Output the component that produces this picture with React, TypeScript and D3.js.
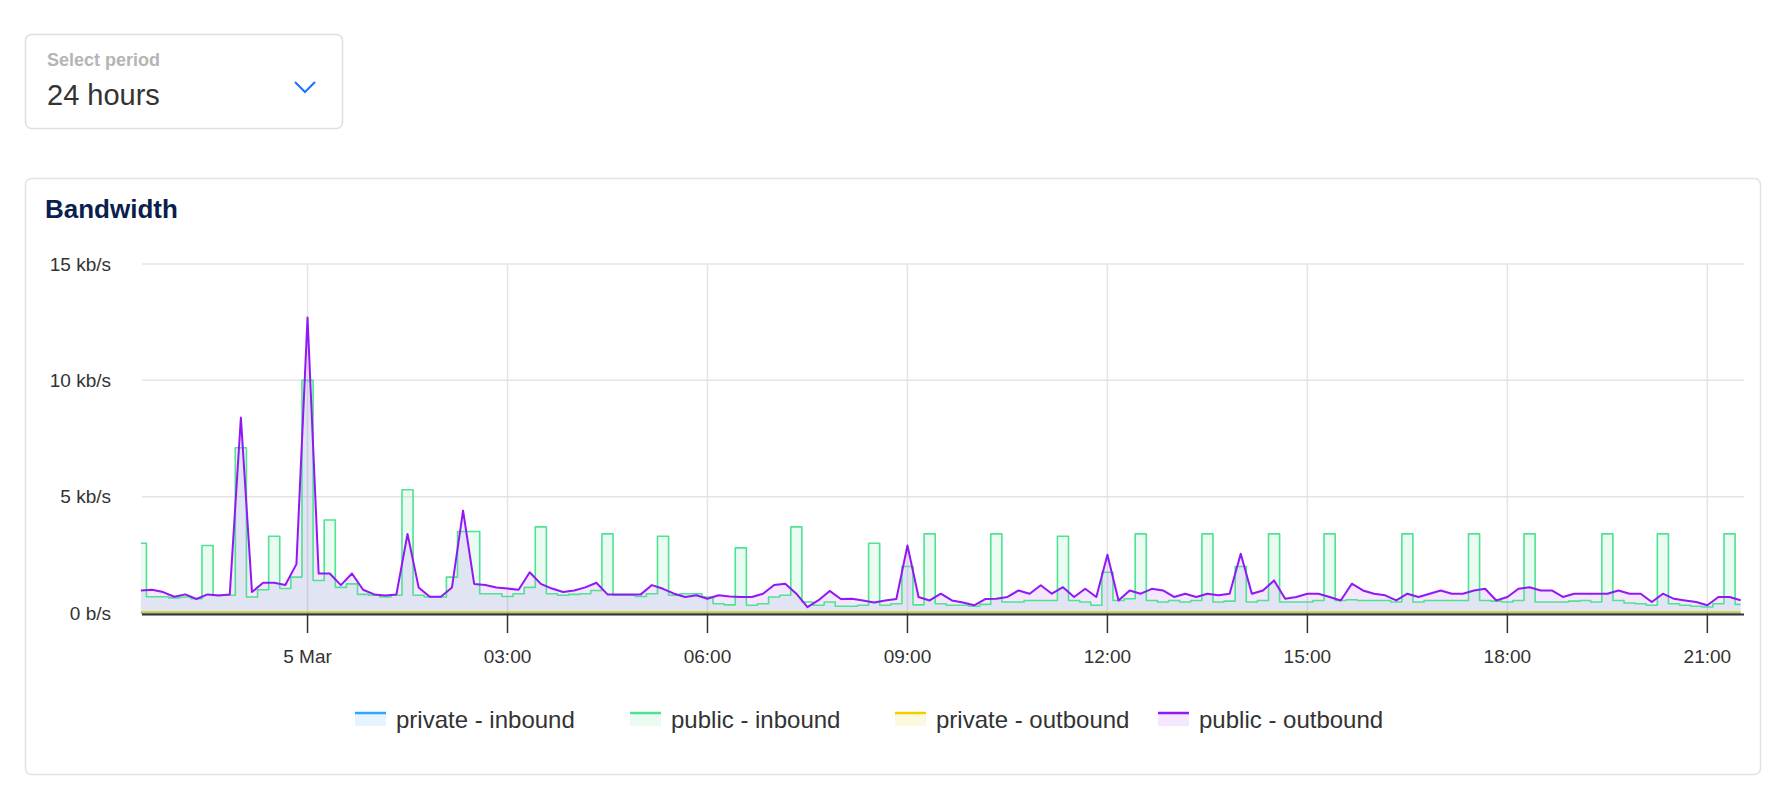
import * as d3 from 'd3'

// 10-minute samples starting 4 Mar 21:30 (UTC), values in kb/s
const publicOutbound = [
  0.97, 1.0, 0.9, 0.7, 0.8, 0.6, 0.8, 0.75, 0.8, 8.4,
  0.9, 1.3, 1.3, 1.2, 2.1, 12.7, 1.7, 1.7, 1.2, 1.7,
  1.0, 0.8, 0.75, 0.8, 3.4, 1.1, 0.7, 0.7, 1.1, 4.4,
  1.25, 1.2, 1.1, 1.05, 1.0, 1.75, 1.25, 1.05, 0.9, 0.97,
  1.1, 1.3, 0.8, 0.8, 0.8, 0.8, 1.2, 1.04, 0.83, 0.69,
  0.76, 0.61, 0.76, 0.71, 0.69, 0.69, 0.83, 1.2, 1.26, 0.83,
  0.25, 0.55, 0.95, 0.6, 0.61, 0.54, 0.45, 0.54, 0.6, 2.9,
  0.69, 0.54, 0.83, 0.54, 0.45, 0.33, 0.6, 0.61, 0.69, 0.97,
  0.83, 1.19, 0.83, 1.11, 0.69, 1.04, 0.69, 2.5, 0.54, 0.97,
  0.83, 1.04, 0.97, 0.69, 0.83, 0.69, 0.83, 0.76, 0.83, 2.55,
  0.83, 0.97, 1.4, 0.61, 0.69, 0.83, 0.83, 0.69, 0.54, 1.26,
  0.97, 0.83, 0.76, 0.54, 0.83, 0.69, 0.83, 0.97, 0.83, 0.83,
  0.97, 1.04, 0.54, 0.69, 1.04, 1.11, 0.97, 0.97, 0.69, 0.83,
  0.83, 0.83, 0.83, 0.97, 0.83, 0.83, 0.47, 0.83, 0.61, 0.54,
  0.47, 0.33, 0.69, 0.69, 0.55,
]
const publicInbound = [
  3.0, 0.7, 0.7, 0.65, 0.69, 0.61, 2.9, 0.76, 0.76, 7.1,
  0.69, 1.0, 3.3, 1.05, 1.54, 10.0, 1.4, 4.0, 1.1, 1.25,
  0.8, 0.76, 0.69, 0.76, 5.3, 0.76, 0.69, 0.69, 1.54, 3.5,
  3.5, 0.83, 0.83, 0.71, 0.83, 1.1, 3.7, 0.83, 0.76, 0.8,
  0.83, 0.97, 3.4, 0.76, 0.76, 0.71, 0.83, 3.3, 0.76, 0.83,
  0.83, 0.69, 0.4, 0.35, 2.8, 0.33, 0.4, 0.69, 0.76, 3.7,
  0.47, 0.33, 0.47, 0.29, 0.29, 0.33, 3.0, 0.33, 0.4, 2.0,
  0.35, 3.4, 0.4, 0.33, 0.33, 0.29, 0.37, 3.4, 0.47, 0.47,
  0.54, 0.54, 0.54, 3.3, 0.54, 0.47, 0.33, 1.75, 0.54, 0.61,
  3.4, 0.54, 0.47, 0.54, 0.47, 0.54, 3.4, 0.47, 0.51, 2.0,
  0.47, 0.54, 3.4, 0.47, 0.47, 0.47, 0.54, 3.4, 0.54, 0.57,
  0.54, 0.54, 0.54, 0.47, 3.4, 0.47, 0.54, 0.54, 0.54, 0.54,
  3.4, 0.54, 0.51, 0.47, 0.54, 3.4, 0.47, 0.47, 0.47, 0.51,
  0.54, 0.47, 3.4, 0.54, 0.43, 0.4, 0.33, 3.4, 0.4, 0.33,
  0.29, 0.26, 0.4, 3.4, 0.37,
]
// private interfaces stay flat near zero all day
const privateInbound = [0, 0]
const privateOutbound = [0.04, 0.04]

const startTime = new Date(Date.UTC(2021, 2, 4, 21, 30))
const endTime = new Date(Date.UTC(2021, 2, 5, 21, 30))
const domainStart = new Date(Date.UTC(2021, 2, 4, 21, 31))
const domainEnd = new Date(Date.UTC(2021, 2, 5, 21, 33))

const tickHours = [0, 3, 6, 9, 12, 15, 18, 21]
const tickLabels = ['5 Mar', '03:00', '06:00', '09:00', '12:00', '15:00', '18:00', '21:00']
const yTicks = [0, 5, 10, 15]
const yTickLabels = ['0 b/s', '5 kb/s', '10 kb/s', '15 kb/s']

const seriesNames = ['private - inbound', 'public - inbound', 'private - outbound', 'public - outbound']
const seriesColors = ['#2aa8ff', '#4fe391', '#f2cd00', '#9118f5']
const seriesFills = ['rgba(42,168,255,0.12)', 'rgba(79,227,145,0.12)', 'rgba(242,205,0,0.12)', 'rgba(145,24,245,0.1)']

const FONT = '"Liberation Sans", Arial, sans-serif'

export default function App() {
  const left = 142, right = 1744, top = 264, bottom = 613
  const x = d3.scaleUtc().domain([domainStart, domainEnd]).range([left, right])
  const y = d3.scaleLinear().domain([0, 15]).range([bottom, top])

  const stepTime = (i: number) => d3.utcMinute.offset(startTime, i * 10)
  const toPoints = (vals: number[]) => vals.map((v, i) => ({ t: stepTime(i), v }))
  const toFlat = (vals: number[]) => vals.map((v, i) => ({ t: i === 0 ? startTime : endTime, v }))

  const series = [
    toFlat(privateInbound),
    toPoints(publicInbound),
    toFlat(privateOutbound),
    toPoints(publicOutbound),
  ]
  // inbound public traffic comes in short flat bursts
  const curves = [d3.curveLinear, d3.curveStep, d3.curveLinear, d3.curveLinear]

  const ticks = tickHours.map(h => new Date(Date.UTC(2021, 2, 5, h)))
  const legendX = [355, 630, 895, 1158]

  return (
    <div style={{ position: 'absolute', left: 0, top: 0 }}>
      <svg width={1786} height={788} style={{ fontFamily: FONT, display: 'block' }}>
        <rect x={0} y={0} width={1786} height={788} fill="#fff" />
        {/* period selector */}
        <rect x={25.5} y={34.5} width={317} height={94} rx={6} fill="#fff" stroke="#dcdfe3" strokeWidth={1.5} />
        <text x={47} y={66} fontSize={18} fontWeight={600} fill="#b5b5b5">Select period</text>
        <text x={47} y={105} fontSize={29} fill="#333">24 hours</text>
        <path d="M295,82 L305,92 L315,82" fill="none" stroke="#1a73ff" strokeWidth={2} />

        {/* panel */}
        <rect x={25.5} y={178.5} width={1735} height={596} rx={6} fill="#fff" stroke="#dde3ec" strokeWidth={1.5} />
        <text x={45} y={218} fontSize={26} fontWeight={700} fill="#0b1f4f">Bandwidth</text>

        {yTicks.map((t, i) => (
          <g key={t}>
            {t > 0 && <line x1={left} x2={right} y1={y(t)} y2={y(t)} stroke="#e4e4e4" strokeWidth={1.5} />}
            <text x={111} y={y(t)} dy="0.35em" textAnchor="end" fontSize={19} fill="#333">{yTickLabels[i]}</text>
          </g>
        ))}
        {ticks.map((t, i) => (
          <g key={i}>
            <line x1={x(t)} x2={x(t)} y1={top} y2={bottom} stroke="#e4e4e4" strokeWidth={1.5} />
            <line x1={x(t)} x2={x(t)} y1={bottom} y2={bottom + 20} stroke="#333" strokeWidth={1.5} />
            <text x={x(t)} y={663} textAnchor="middle" fontSize={19} fill="#333">{tickLabels[i]}</text>
          </g>
        ))}

        {series.map((s, i) => {
          const area = d3.area<{ t: Date, v: number }>().curve(curves[i]).x(d => x(d.t)).y0(y(0)).y1(d => y(d.v))
          return <path key={'a' + i} d={area(s) ?? ''} fill={seriesFills[i]} />
        })}
        {series.map((s, i) => {
          const line = d3.line<{ t: Date, v: number }>().curve(curves[i]).x(d => x(d.t)).y(d => y(d.v))
          return <path key={'l' + i} d={line(s) ?? ''} fill="none" stroke={seriesColors[i]} strokeWidth={i === 3 ? 2 : 1.6} strokeLinejoin="round" />
        })}
        <line x1={left} x2={right} y1={bottom + 1.5} y2={bottom + 1.5} stroke="#333" strokeWidth={2} />

        {seriesNames.map((n, i) => (
          <g key={n} transform={`translate(${legendX[i]},0)`}>
            <rect x={0} y={712} width={31} height={14} fill={seriesFills[i]} />
            <line x1={0} x2={31} y1={713} y2={713} stroke={seriesColors[i]} strokeWidth={2.5} />
            <text x={41} y={728} fontSize={24} fill="#333">{n}</text>
          </g>
        ))}
      </svg>
    </div>
  )
}
